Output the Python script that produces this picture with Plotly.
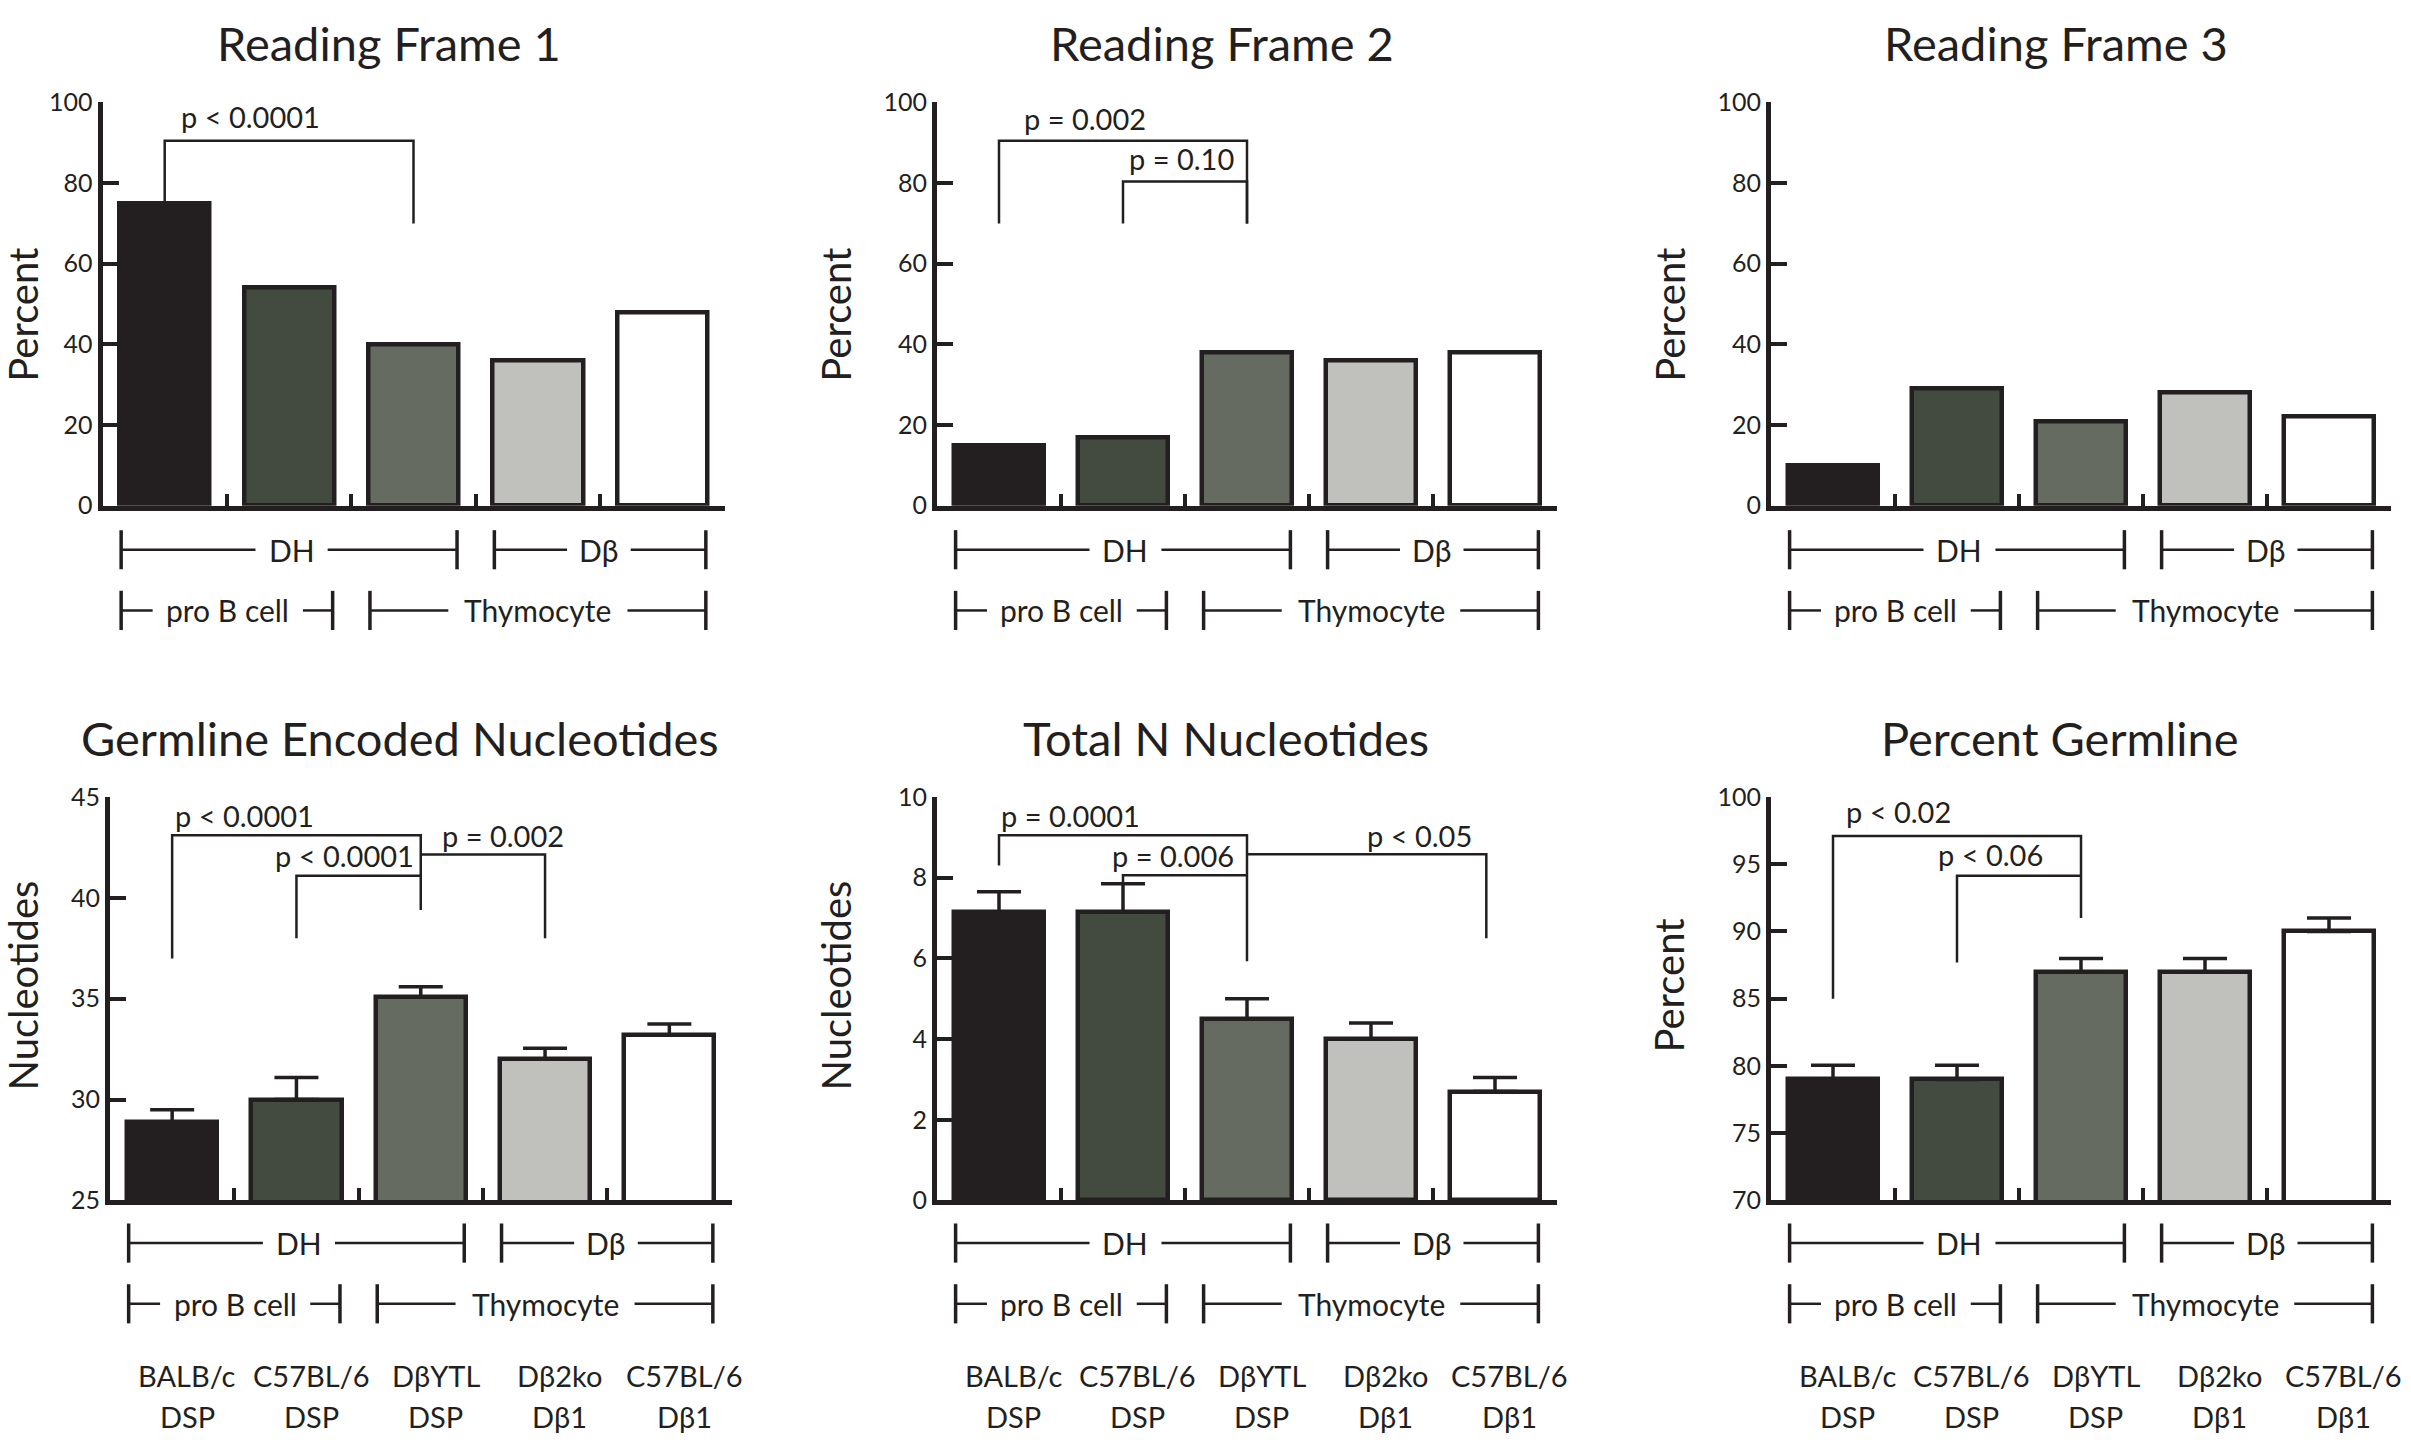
import plotly.graph_objects as go
from plotly.subplots import make_subplots

INK = '#231f20'
FONT = 'Lato'
W, H = 2411, 1450

# ---------------------------------------------------------------------------
# Data
# ---------------------------------------------------------------------------
strain_line1 = ['BALB/c', 'C57BL/6', 'DβYTL', 'Dβ2ko', 'C57BL/6']
strain_line2 = ['DSP', 'DSP', 'DSP', 'Dβ1', 'Dβ1']
bar_colors = ['#231f20', '#434b40', '#656b60', '#c0c1bc', '#ffffff']

rf1 = [75, 54, 40, 36, 48]
rf2 = [15, 17, 38, 36, 38]
rf3 = [10, 29, 21, 28, 22]

germline_nt = [28.9, 30.0, 35.1, 32.0, 33.2]
germline_nt_err = [0.6, 1.1, 0.5, 0.55, 0.55]
total_n = [7.15, 7.15, 4.5, 4.0, 2.7]
total_n_err = [0.5, 0.7, 0.5, 0.4, 0.35]
pct_germline = [79, 79, 87, 87, 90]
pct_germline_err = [1.05, 1.05, 1.0, 1.0, 1.0]

# significance brackets: (x_left, y_left_end, x_right, y_right_end, height, label, label_x, label_y)
rf1_sig = [(0, 75, 2, 70, 90.5, 'p < 0.0001', 0.69, 96.5)]
rf2_sig = [(0, 70, 2, 70, 90.5, 'p = 0.002', 0.69, 96),
           (1, 70, 2, 70, 80.4, 'p = 0.10', 1.47, 86)]
rf3_sig = []
gnt_sig = [(0, 37, 2, 39.4, 43.1, 'p < 0.0001', 0.58, 44.1),
           (1, 38, 2, 41.1, 41.1, 'p < 0.0001', 1.39, 42.1),
           (2, 42.15, 3, 38, 42.15, 'p = 0.002', 2.66, 43.1)]
tn_sig = [(0, 8.3, 2, 5.93, 9.05, 'p = 0.0001', 0.58, 9.55),
          (1, 7.85, 2, 8.06, 8.06, 'p = 0.006', 1.4, 8.55),
          (2, 8.58, 3.93, 6.5, 8.58, 'p < 0.05', 3.39, 9.05)]
pg_sig = [(0, 85, 2, 91, 97.1, 'p < 0.02', 0.53, 98.9),
          (1, 87.7, 2, 94.15, 94.15, 'p < 0.06', 1.27, 95.7)]

# group brackets under the axis: (label, first bar, last bar, text centre, half gap)
gene_groups = [('DH', 0, 2, 1.02, 0.29), ('Dβ', 3, 4, 3.49, 0.256)]
cell_groups = [('pro B cell', 0, 1, 0.507, 0.604), ('Thymocyte', 2, 4, 3.0, 0.72)]

panels = [
    dict(title='Reading Frame 1', ytitle='Percent', y=rf1, err=None, yr=[0, 100], dt=20, sig=rf1_sig, row=1, col=1),
    dict(title='Reading Frame 2', ytitle='Percent', y=rf2, err=None, yr=[0, 100], dt=20, sig=rf2_sig, row=1, col=2),
    dict(title='Reading Frame 3', ytitle='Percent', y=rf3, err=None, yr=[0, 100], dt=20, sig=rf3_sig, row=1, col=3),
    dict(title='Germline Encoded Nucleotides', ytitle='Nucleotides', y=germline_nt, err=germline_nt_err,
         yr=[25, 45], dt=5, sig=gnt_sig, row=2, col=1),
    dict(title='Total N Nucleotides', ytitle='Nucleotides', y=total_n, err=total_n_err,
         yr=[0, 10], dt=2, sig=tn_sig, row=2, col=2),
    dict(title='Percent Germline', ytitle='Percent', y=pct_germline, err=pct_germline_err,
         yr=[70, 100], dt=5, sig=pg_sig, row=2, col=3),
]

# ---------------------------------------------------------------------------
# Layout geometry (pixels)
# ---------------------------------------------------------------------------
x_dom = {(1, 1): (102.5, 724.5), (1, 2): (937, 1557), (1, 3): (1771, 2391),
         (2, 1): (110, 731.5), (2, 2): (937, 1557), (2, 3): (1771, 2391)}
y_dom = {1: (88.3, 500), 2: (797.5, 1209.5)}
title_y = {1: 28, 2: 737}
title_x = {1: 1.8, 2: 1.83}
ytitle_y = {1: 305, 2: 990}
ytitle_x = {(1, 1): 23, (1, 2): 836, (1, 3): 1670, (2, 1): 23, (2, 2): 836, (2, 3): 1669}
row1_y = {1: 545, 2: 1253}
row2_y = {1: 607, 2: 1315}
strain_y = (1388, 1430)
HALF_BAR = 0.35


def px(v):
    return v / W


def py(v):
    return 1 - v / H


fig = make_subplots(rows=2, cols=3)
annotations = []
shapes = []

for n, p in enumerate(panels, start=1):
    r, c = p['row'], p['col']
    xs = list(range(len(strain_line1)))
    bar = go.Bar(
        x=xs, y=p['y'], width=0.725,
        marker=dict(color=bar_colors, line=dict(color=INK, width=4.5)),
        showlegend=False, hoverinfo='y',
    )
    if p['err'] is not None:
        bar.error_y = dict(type='data', array=p['err'], arrayminus=[0] * len(p['err']),
                           symmetric=False, color=INK, thickness=3.5, width=22)
    fig.add_trace(bar, row=r, col=c)

    for (xl, yl, xr, yr, h, label, lx, ly) in p['sig']:
        fig.add_trace(go.Scatter(
            x=[xl, xl, xr, xr], y=[yl, h, h, yr], mode='lines',
            line=dict(color=INK, width=2.5), showlegend=False, hoverinfo='skip',
        ), row=r, col=c)
        annotations.append(dict(
            x=lx, y=ly, xref=f'x{n}', yref=f'y{n}', text=label, showarrow=False,
            font=dict(family=FONT, size=29, color=INK), xanchor='center', yanchor='middle',
        ))

    x0, x1 = x_dom[(r, c)]
    y0, y1 = y_dom[r]
    fig.update_xaxes(
        domain=[px(x0), px(x1)], range=[-0.5, 4.5],
        tickvals=[0.5, 1.5, 2.5, 3.5, 4.5], ticks='inside', ticklen=12, tickwidth=4,
        tickcolor=INK, showticklabels=False, showline=True, linewidth=5, linecolor=INK,
        showgrid=False, zeroline=False, row=r, col=c,
    )
    fig.update_yaxes(
        domain=[py(y1), py(y0)], range=p['yr'], dtick=p['dt'],
        ticks='inside', ticklen=16, tickwidth=4, tickcolor=INK,
        tickfont=dict(family=FONT, size=25, color=INK),
        showline=True, linewidth=5, linecolor=INK, showgrid=False, zeroline=False,
        row=r, col=c,
    )

    # panel title
    annotations.append(dict(
        x=title_x[r], y=py(title_y[r]), xref=f'x{n}', yref='paper', text=p['title'], showarrow=False,
        font=dict(family=FONT, size=47, color=INK), xanchor='center', yanchor='middle',
    ))
    # y axis title
    annotations.append(dict(
        x=px(ytitle_x[(r, c)]), y=py(ytitle_y[r]), xref='paper', yref='paper',
        text=p['ytitle'], textangle=-90, showarrow=False,
        font=dict(family=FONT, size=40, color=INK), xanchor='center', yanchor='middle',
    ))

    # group brackets below the axis
    for groups, yy in ((gene_groups, row1_y[r]), (cell_groups, row2_y[r])):
        for label, g0, g1, mid, gap in groups:
            left, right = g0 - HALF_BAR, g1 + HALF_BAR
            for a, b in ((left, mid - gap), (mid + gap, right)):
                shapes.append(dict(type='line', xref=f'x{n}', yref='paper',
                                   x0=a, x1=b, y0=py(yy), y1=py(yy),
                                   line=dict(color=INK, width=2.5)))
            for xe in (left, right):
                shapes.append(dict(type='line', xref=f'x{n}', yref='paper',
                                   x0=xe, x1=xe, y0=py(yy - 20), y1=py(yy + 20),
                                   line=dict(color=INK, width=3.5)))
            annotations.append(dict(
                x=mid, y=py(yy), xref=f'x{n}', yref='paper', text=label, showarrow=False,
                font=dict(family=FONT, size=30, color=INK), xanchor='center', yanchor='middle',
            ))

    # strain labels under the bottom row
    if r == 2:
        for i, (l1, l2) in enumerate(zip(strain_line1, strain_line2)):
            for txt, yy in ((l1, strain_y[0]), (l2, strain_y[1])):
                annotations.append(dict(
                    x=i + 0.12, y=py(yy), xref=f'x{n}', yref='paper', text=txt,
                    showarrow=False, font=dict(family=FONT, size=29, color=INK),
                    xanchor='center', yanchor='middle',
                ))

fig.update_layout(
    width=W, height=H,
    margin=dict(l=0, r=0, t=0, b=0),
    paper_bgcolor='white', plot_bgcolor='white',
    annotations=annotations, shapes=shapes,
    bargap=0, showlegend=False,
)

fig.write_html('out.html', config={'displayModeBar': False},
               post_script="document.body.style.margin='0';")
